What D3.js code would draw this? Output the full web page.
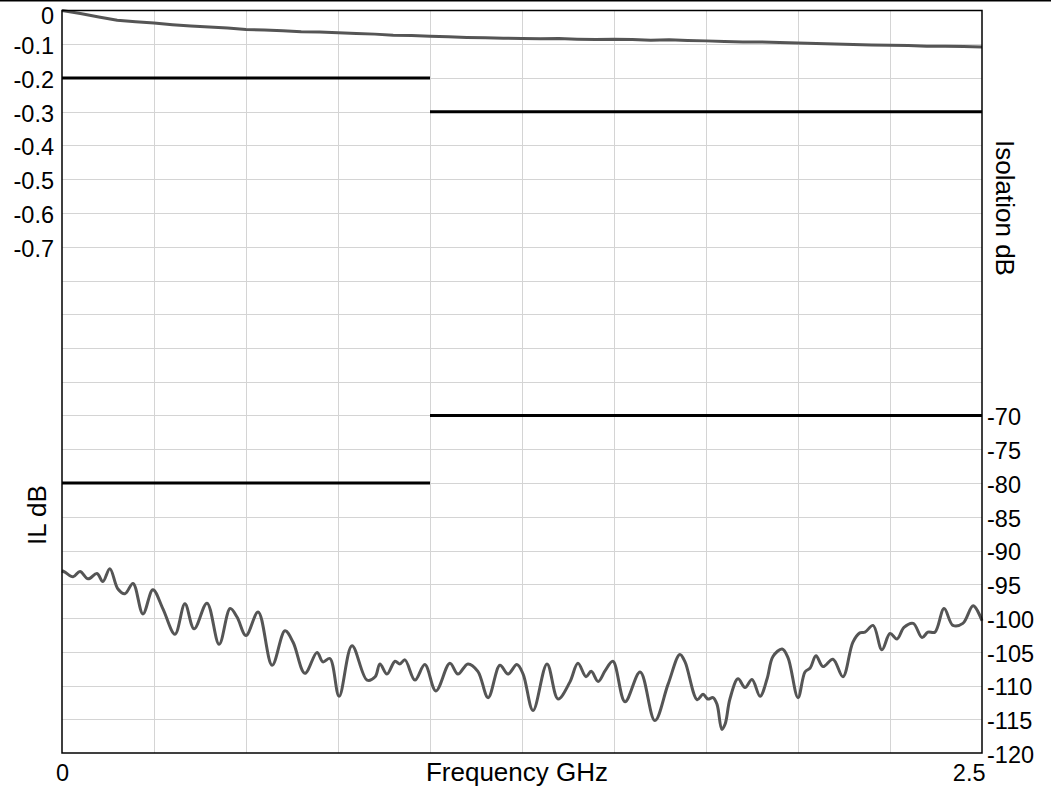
<!DOCTYPE html>
<html><head><meta charset="utf-8">
<script src="https://cdn.jsdelivr.net/npm/d3@7"></script>
<style>body{margin:0;background:#fff}svg{display:block}text{font-family:"Liberation Sans",Arial,sans-serif;fill:#000}</style>
</head><body><svg id="c" width="1051" height="792"></svg>
<script>
// ---- data ----
const ilFreq = [0,0.05,0.1,0.15,0.2,0.25,0.3,0.35,0.4,0.45,0.5,0.55,0.6,0.65,0.7,0.75,0.8,0.85,0.9,0.95,1.0,1.05,1.1,1.15,1.2,1.25,1.3,1.35,1.4,1.45,1.5,1.55,1.6,1.65,1.7,1.75,1.8,1.85,1.9,1.95,2.0,2.05,2.1,2.15,2.2,2.25,2.3,2.35,2.4,2.45,2.5];
const ilValues = [0,-0.009,-0.019,-0.029,-0.033,-0.037,-0.042,-0.046,-0.049,-0.052,-0.056,-0.058,-0.060,-0.063,-0.064,-0.066,-0.068,-0.070,-0.073,-0.074,-0.076,-0.078,-0.080,-0.081,-0.082,-0.083,-0.084,-0.083,-0.085,-0.086,-0.085,-0.086,-0.088,-0.087,-0.089,-0.090,-0.092,-0.093,-0.093,-0.095,-0.096,-0.098,-0.099,-0.101,-0.102,-0.103,-0.104,-0.106,-0.106,-0.107,-0.108];
const isoFreq = [0,0.008,0.030,0.049,0.071,0.095,0.111,0.130,0.152,0.171,0.193,0.220,0.247,0.274,0.307,0.334,0.359,0.394,0.427,0.457,0.476,0.500,0.533,0.571,0.606,0.628,0.660,0.693,0.709,0.728,0.753,0.788,0.829,0.851,0.864,0.883,0.905,0.918,0.932,0.959,0.986,1.016,1.054,1.076,1.103,1.130,1.158,1.190,1.212,1.236,1.253,1.280,1.318,1.348,1.380,1.402,1.424,1.438,1.457,1.476,1.497,1.530,1.571,1.611,1.647,1.679,1.693,1.726,1.742,1.755,1.769,1.780,1.793,1.802,1.815,1.837,1.856,1.875,1.897,1.916,1.932,1.957,1.973,2.000,2.019,2.033,2.049,2.068,2.095,2.122,2.149,2.168,2.182,2.204,2.228,2.250,2.269,2.288,2.313,2.337,2.353,2.372,2.397,2.421,2.448,2.476,2.500];
const isoValues = [-93.0,-93.2,-93.9,-93.1,-94.2,-93.4,-94.6,-92.7,-95.7,-96.4,-94.9,-99.4,-95.8,-98.6,-102.4,-97.9,-101.6,-97.8,-103.9,-98.6,-99.9,-102.6,-99.1,-107.0,-101.9,-103.6,-108.2,-105.1,-106.5,-106.0,-111.6,-104.1,-109.2,-108.7,-106.8,-108.3,-106.4,-106.8,-106.2,-109.2,-106.9,-110.8,-106.7,-108.3,-106.8,-107.9,-111.8,-107.0,-108.3,-106.9,-108.3,-113.7,-106.8,-112.0,-109.5,-106.7,-108.7,-107.9,-109.4,-107.8,-106.4,-112.4,-108.0,-115.2,-109.8,-105.4,-106.5,-112.1,-111.3,-112.0,-111.8,-112.8,-116.5,-115.7,-112.0,-109.0,-110.3,-109.1,-111.6,-109.0,-105.7,-104.6,-105.9,-111.8,-108.0,-107.4,-105.6,-107.2,-106.1,-108.7,-103.6,-102.2,-102.1,-101.1,-104.7,-102.3,-103.1,-101.4,-100.8,-102.9,-102.1,-102.1,-98.6,-101.1,-100.8,-98.2,-100.4];
const limitStart = [0, 1.0];
const limitEnd = [1.0, 2.5];
const ilLimit = [-0.2, -0.3];
const isoLimit = [-80, -70];
const leftTicks = [0,-0.1,-0.2,-0.3,-0.4,-0.5,-0.6,-0.7];
const rightTicks = [-70,-75,-80,-85,-90,-95,-100,-105,-110,-115,-120];
const xTicks = [0, 2.5];
const xGrid = [0.25,0.5,0.75,1.0,1.25,1.5,1.75,2.0,2.25];
const yGrid = d3.range(1,22).map(i => -i/10);

// ---- scales ----
const L=62, R=982, T=10.5, B=753;
const x = d3.scaleLinear([0,2.5],[L,R]);
const yL = d3.scaleLinear([0,-2.2],[T,B]);
const yR = d3.scaleLinear([-10,-120],[T,B]);
const svg = d3.select("#c");

svg.append("line").attr("x1",0).attr("x2",1051).attr("y1",0.75).attr("y2",0.75).attr("stroke","#000").attr("stroke-width",1.5);

// grid
const g = svg.append("g").attr("stroke","#d4d4d4").attr("stroke-width",1);
g.selectAll(".vx").data(xGrid).join("line").attr("x1",d=>Math.round(x(d))+0.5).attr("x2",d=>Math.round(x(d))+0.5).attr("y1",T).attr("y2",B);
g.selectAll(".hy").data(yGrid).join("line").attr("y1",d=>Math.round(yL(d))+0.5).attr("y2",d=>Math.round(yL(d))+0.5).attr("x1",L).attr("x2",R);

// limit lines
svg.selectAll(".ill").data(ilLimit).join("line").attr("x1",(d,i)=>x(limitStart[i])).attr("x2",(d,i)=>x(limitEnd[i])).attr("y1",d=>yL(d)).attr("y2",d=>yL(d)).attr("stroke","#000").attr("stroke-width",3);
svg.selectAll(".isl").data(isoLimit).join("line").attr("x1",(d,i)=>x(limitStart[i])).attr("x2",(d,i)=>x(limitEnd[i])).attr("y1",d=>yR(d)).attr("y2",d=>yR(d)).attr("stroke","#000").attr("stroke-width",3);

// curves
const ilLine = d3.line().x((d,i)=>x(ilFreq[i])).y(d=>yL(d)).curve(d3.curveLinear);
svg.append("path").attr("d",ilLine(ilValues)).attr("fill","none").attr("stroke","#555").attr("stroke-width",3);
const isoLine = d3.line().x((d,i)=>x(isoFreq[i])).y(d=>yR(d)).curve(d3.curveCatmullRom.alpha(0.5));
svg.append("path").attr("d",isoLine(isoValues)).attr("fill","none").attr("stroke","#555").attr("stroke-width",3).attr("stroke-linejoin","round");

// frame
svg.append("rect").attr("x",L).attr("y",T).attr("width",R-L).attr("height",B-T).attr("fill","none").attr("stroke","#000").attr("stroke-width",1.5);

// axes (labels only)
const fmt = d => String(d);
const ax1 = svg.append("g").attr("transform",`translate(${L-8},0)`).call(d3.axisLeft(yL).tickValues(leftTicks).tickSize(0).tickPadding(0).tickFormat(fmt));
const ax2 = svg.append("g").attr("transform",`translate(${R+5},0)`).call(d3.axisRight(yR).tickValues(rightTicks).tickSize(0).tickPadding(0).tickFormat(fmt));
[ax1,ax2].forEach(a=>{a.select(".domain").remove();a.selectAll("text").attr("font-size",23.5).attr("font-family","Liberation Sans, Arial, sans-serif").attr("fill","#000").attr("dy","0.4em");});
ax1.selectAll("text").filter(d=>d===0).attr("dy","0.55em");
const ax3 = svg.append("g").attr("transform",`translate(0,${B})`).call(d3.axisBottom(x).tickValues(xTicks).tickSize(0).tickPadding(0).tickFormat(fmt));
ax3.select(".domain").remove();
ax3.selectAll("text").attr("font-size",23.5).attr("font-family","Liberation Sans, Arial, sans-serif").attr("fill","#000").attr("dy",null).attr("y",28)
  .attr("text-anchor",(d,i)=>i===0?"middle":"end").attr("x",(d,i)=>i===0?0:3);

// titles
svg.append("text").attr("x",517).attr("y",781).attr("text-anchor","middle").attr("font-size",26).text("Frequency GHz");
svg.append("text").attr("transform","translate(46,515) rotate(-90)").attr("text-anchor","middle").attr("font-size",26).text("IL dB");
svg.append("text").attr("transform","translate(996,208) rotate(90)").attr("text-anchor","middle").attr("font-size",26).text("Isolation dB");
</script></body></html>
